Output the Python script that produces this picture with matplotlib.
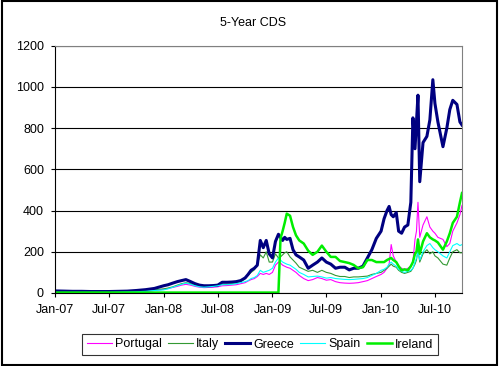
import pandas as pd
import matplotlib.pyplot as plt
import matplotlib.dates as mdates
from matplotlib.patches import Rectangle

plt.rcParams['font.family'] = ['Liberation Sans', 'DejaVu Sans']

# Observation dates (roughly semi-monthly, denser where the curves move a lot)
dates = [
    "2007-01-01", "2007-02-01", "2007-03-01", "2007-04-01", "2007-05-01", "2007-06-01",
    "2007-07-01", "2007-08-01", "2007-09-01", "2007-10-01", "2007-11-01", "2007-12-01",
    "2008-01-01", "2008-01-16", "2008-02-01", "2008-02-16", "2008-03-01", "2008-03-16",
    "2008-04-01", "2008-04-16", "2008-05-01", "2008-05-16", "2008-06-01", "2008-06-16",
    "2008-07-01", "2008-07-16", "2008-08-01", "2008-08-16", "2008-09-01", "2008-09-16",
    "2008-10-01", "2008-10-11", "2008-10-21", "2008-11-01", "2008-11-11", "2008-11-21",
    "2008-12-01", "2008-12-11", "2008-12-21",
    "2009-01-01", "2009-01-11", "2009-01-21", "2009-01-28", "2009-02-04", "2009-02-11",
    "2009-02-18", "2009-03-01", "2009-03-11", "2009-03-21", "2009-04-01", "2009-04-16",
    "2009-05-01", "2009-05-16", "2009-06-01", "2009-06-16", "2009-07-01", "2009-07-16",
    "2009-08-01", "2009-08-16", "2009-09-01", "2009-09-16", "2009-10-01", "2009-10-16",
    "2009-11-01", "2009-11-16", "2009-12-01", "2009-12-16",
    "2010-01-01", "2010-01-11", "2010-01-21", "2010-01-28", "2010-02-04", "2010-02-11",
    "2010-02-21", "2010-03-01", "2010-03-11", "2010-03-21", "2010-04-01", "2010-04-11",
    "2010-04-18", "2010-04-25", "2010-04-30", "2010-05-05", "2010-05-11", "2010-05-22",
    "2010-06-04", "2010-06-14", "2010-06-24", "2010-07-01", "2010-07-11", "2010-07-28",
    "2010-08-10", "2010-08-20", "2010-08-30", "2010-09-13", "2010-09-23", "2010-09-30",
]

portugal = [
    4, 4, 4, 3, 3, 3, 3, 4, 5, 6, 8, 12,
    18, 22, 27, 32, 38, 42, 38, 32, 28, 26, 27, 28, 30, 35, 36, 38, 40, 45,
    50, 58, 65, 70, 80, 95, 90, 95, 90,
    100, 135, 150, 145, 135, 130, 125, 120, 110, 100, 85, 70, 60, 65, 75, 70,
    62, 65, 55, 50, 48, 47, 48, 50, 55, 60, 70, 80,
    90, 100, 120, 140, 235, 180, 150, 130, 120, 110, 120, 130, 150, 260, 300,
    440, 270, 330, 370, 320, 300, 290, 270, 260, 225, 240, 300, 340, 380, 425,
]
italy = [
    8, 8, 7, 7, 7, 7, 7, 8, 9, 10, 12, 16,
    20, 24, 30, 38, 45, 50, 45, 38, 33, 30, 32, 35, 38, 42, 42, 45, 48, 55,
    70, 87, 100, 112, 140, 185, 170, 200, 150,
    150, 190, 170, 175, 185, 195, 200, 175, 160, 145, 125, 115, 105, 110, 100, 110,
    100, 95, 85, 80, 80, 75, 78, 78, 80, 82, 90, 95,
    100, 110, 120, 130, 140, 130, 125, 110, 100, 95, 100, 105, 120, 140, 160,
    210, 150, 190, 210, 190, 200, 180, 170, 140, 135, 170, 200, 210, 195, 195,
]
greece = [
    10, 9, 8, 8, 7, 7, 7, 8, 9, 12, 16, 22,
    35, 40, 48, 55, 60, 65, 55, 45, 38, 35, 35, 36, 38, 52, 52, 53, 55, 60,
    73, 90, 110, 120, 135, 255, 220, 255, 190,
    170, 250, 285, 270, 255, 270, 260, 265, 210, 185, 175, 160, 120, 135, 150, 170,
    150, 140, 120, 125, 125, 112, 120, 120, 130, 170, 210, 265,
    300, 360, 400, 420, 380, 370, 390, 300, 290, 320, 330, 440, 850, 700, 830,
    960, 540, 730, 760, 840, 1035, 920, 830, 710, 800, 890, 935, 915, 830, 815,
]
spain = [
    3, 3, 3, 3, 3, 3, 3, 4, 5, 6, 8, 12,
    15, 20, 28, 35, 42, 48, 42, 35, 30, 28, 30, 32, 35, 40, 40, 42, 45, 50,
    55, 60, 70, 75, 85, 110, 100, 105, 110,
    120, 150, 170, 160, 150, 145, 140, 135, 125, 115, 100, 90, 78, 80, 82, 78,
    72, 75, 70, 68, 66, 65, 66, 68, 70, 75, 85, 95,
    110, 115, 125, 140, 150, 140, 130, 115, 105, 100, 105, 110, 120, 150, 170,
    200, 160, 200, 230, 240, 220, 210, 200, 180, 170, 200, 230, 240, 230, 235,
]
ireland = [
    2, 2, 2, 2, 2, 2, 2, 2, 2, 2, 2, 2,
    2, 2, 2, 2, 2, 2, 2, 2, 2, 2, 2, 2, 2, 2, 2, 2, 2, 2,
    2, 2, 2, 2, 2, 2, 2, 2, 2,
    2, 2, 2, 265, 300, 340, 385, 375, 320, 280, 255, 240, 205, 185, 200, 230,
    200, 175, 175, 155, 150, 145, 136, 120, 125, 160, 160, 150,
    150, 150, 160, 165, 170, 160, 150, 130, 110, 115, 110, 130, 150, 190, 200,
    260, 190, 250, 290, 270, 260, 255, 245, 210, 250, 290, 340, 370, 440, 485,
]

names = ["Portugal", "Italy", "Greece", "Spain", "Ireland"]
colors = ["#ff00ff", "#339933", "#000080", "#00ffff", "#00ee00"]
widths = [0.8, 0.8, 2.2, 0.8, 1.8]

x = pd.to_datetime(dates)

fig = plt.figure(figsize=(5, 3.66), dpi=100)
ax = fig.add_axes([0.11, 0.1995, 0.814, 0.6756])

for name, vals, c, lw in zip(names, [portugal, italy, greece, spain, ireland], colors, widths):
    ax.plot(x, vals, color=c, lw=lw, label=name)

ax.set_xlim(pd.Timestamp("2007-01-01"), pd.Timestamp("2010-09-30"))
ax.set_ylim(0, 1200)
ax.set_yticks(range(0, 1201, 200))
ax.yaxis.grid(True, color="black", lw=0.8)
ax.xaxis.set_major_locator(mdates.MonthLocator(bymonth=[1, 7]))
ax.xaxis.set_major_formatter(mdates.DateFormatter("%b-%y"))
ax.tick_params(direction="out", length=3, width=0.8, labelsize=9, pad=5)

for s in ["left", "bottom"]:
    ax.spines[s].set_color("black")
    ax.spines[s].set_linewidth(0.8)
for s in ["top", "right"]:
    ax.spines[s].set_color("#808080")
    ax.spines[s].set_linewidth(0.8)

fig.text(0.507, 1 - 23 / 366, "5-Year CDS", ha="center", va="center", fontsize=9)

leg = fig.legend(loc="center", bbox_to_anchor=(0.52, 1 - 344.5 / 366), ncol=5,
                 fontsize=9, frameon=True, fancybox=False, shadow=False,
                 handlelength=2.0, handletextpad=0.25, columnspacing=0.5,
                 borderpad=0.35, borderaxespad=0)
leg.get_frame().set_edgecolor("black")
leg.get_frame().set_linewidth(0.8)

# outer chart border
fig.patches.append(Rectangle((2 / 500, 1 / 366), 495 / 500, 364 / 366,
                             transform=fig.transFigure, fill=False,
                             edgecolor="black", lw=1.5))

fig.savefig("out.png", dpi=100)
